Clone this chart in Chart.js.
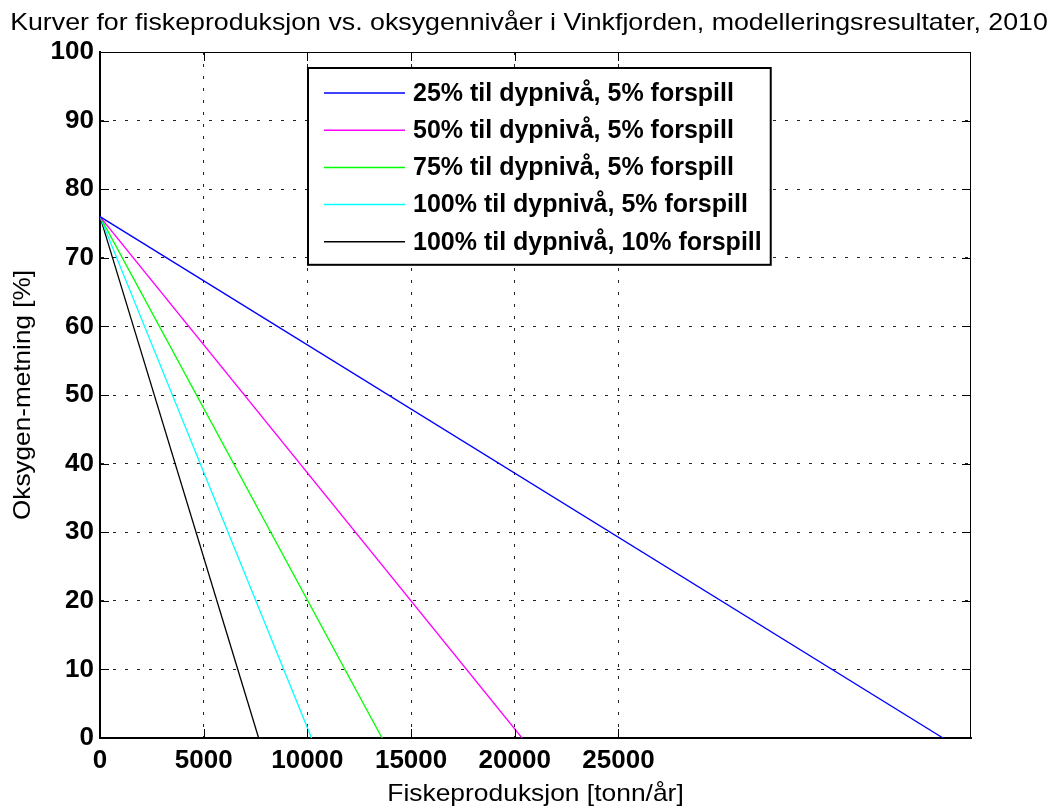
<!DOCTYPE html>
<html>
<head>
<meta charset="utf-8">
<script src="https://cdn.jsdelivr.net/npm/chart.js@4.4.1/dist/chart.umd.min.js"></script>
<style>
  html, body { margin: 0; padding: 0; background: #fff; }
  #wrap { width: 1058px; height: 808px; }
</style>
</head>
<body>
<div id="wrap"><canvas id="c" width="1058" height="808"></canvas></div>
<script>
// Tekster
const tittel = 'Kurver for fiskeproduksjon vs. oksygennivåer i Vinkfjorden, modelleringsresultater, 2010';
const xTittel = 'Fiskeproduksjon [tonn/år]';
const yTittel = 'Oksygen-metning [%]';
const serieNavn = [
  '25% til dypnivå, 5% forspill',
  '50% til dypnivå, 5% forspill',
  '75% til dypnivå, 5% forspill',
  '100% til dypnivå, 5% forspill',
  '100% til dypnivå, 10% forspill'
];

// Fiskeproduksjon (tonn/år) ved start- og sluttpunkt for hver kurve
const prod25 = [0, 40650];
const prod50 = [0, 20350];
const prod75 = [0, 13600];
const prod100 = [0, 10200];
const prod100f10 = [0, 7650];
// Oksygenmetning (%) i de samme punktene
const oksygen = [76, 0];

// Akser
const xTicks = [0, 5000, 10000, 15000, 20000, 25000];
const yTicks = [0, 10, 20, 30, 40, 50, 60, 70, 80, 90, 100];
const xMaks = 42000;
const yMaks = 100;

const farger = ['#0000ff', '#ff00ff', '#00ff00', '#00ffff', '#000000'];
const FONT = "'Liberation Sans', Arial, Helvetica, sans-serif";

const serier = [prod25, prod50, prod75, prod100, prod100f10];
const datasets = serier.map((xs, i) => ({
  label: serieNavn[i],
  data: xs.map((x, j) => ({ x: x, y: oksygen[j] })),
  borderColor: farger[i],
  backgroundColor: farger[i],
  borderWidth: 1.3,
  showLine: true,
  pointRadius: 0,
  fill: false,
  tension: 0
}));

// Tekst med horisontal strekk
function strektTekst(ctx, txt, x, y, rot, sx) {
  ctx.save();
  ctx.translate(x, y);
  ctx.rotate(rot);
  ctx.scale(sx, 1);
  ctx.fillText(txt, 0, 0);
  ctx.restore();
}

const ramme = {
  id: 'ramme',
  afterDraw(chart) {
    const { ctx, chartArea: a, scales: { x, y } } = chart;
    ctx.save();
    ctx.strokeStyle = '#000';
    ctx.setLineDash([]);

    // Topp- og høyrekant
    ctx.lineWidth = 1;
    ctx.beginPath();
    ctx.moveTo(a.left, a.top + 0.5);
    ctx.lineTo(a.right - 0.5, a.top + 0.5);
    ctx.lineTo(a.right - 0.5, a.bottom);
    ctx.stroke();

    // Innovervendte tikkmerker på alle fire sider
    const len = 9;
    ctx.beginPath();
    x.ticks.forEach(t => {
      const px = Math.round(x.getPixelForValue(t.value)) + 0.5;
      ctx.moveTo(px, a.bottom); ctx.lineTo(px, a.bottom - len);
      ctx.moveTo(px, a.top); ctx.lineTo(px, a.top + len);
    });
    y.ticks.forEach(t => {
      const py = Math.round(y.getPixelForValue(t.value)) + 0.5;
      ctx.moveTo(a.left, py); ctx.lineTo(a.left + len, py);
      ctx.moveTo(a.right, py); ctx.lineTo(a.right - len, py);
    });
    ctx.stroke();

    // Tegnforklaring
    ctx.font = 'bold 25px ' + FONT;
    const bredest = Math.max(...chart.data.datasets.map(d => ctx.measureText(d.label).width));
    const lx = a.left + 208, ly = a.top + 16;
    const rad = 37.2;
    const bw = 16 + 81 + 8 + bredest + 9;
    const bh = 25 + rad * (chart.data.datasets.length - 1) + 23;
    ctx.fillStyle = '#fff';
    ctx.fillRect(lx, ly, bw, bh);
    ctx.lineWidth = 2;
    ctx.strokeRect(lx, ly, bw, bh);
    ctx.textAlign = 'left';
    ctx.textBaseline = 'middle';
    chart.data.datasets.forEach((d, i) => {
      const ry = ly + 25 + i * rad;
      ctx.strokeStyle = d.borderColor;
      ctx.lineWidth = 1.5;
      ctx.beginPath();
      ctx.moveTo(lx + 16, ry);
      ctx.lineTo(lx + 97, ry);
      ctx.stroke();
      ctx.fillStyle = '#000';
      ctx.fillText(d.label, lx + 105, ry + 1);
    });

    // Titler
    ctx.fillStyle = '#000';
    ctx.font = '24px ' + FONT;
    ctx.textAlign = 'center';
    ctx.textBaseline = 'alphabetic';
    strektTekst(ctx, tittel, chart.width / 2, 30, 0, 1.115);
    strektTekst(ctx, xTittel, (a.left + a.right) / 2, 801, 0, 1.10);
    strektTekst(ctx, yTittel, 30, (a.top + a.bottom) / 2, -Math.PI / 2, 1.09);
    ctx.restore();
  }
};

const tikkFont = { family: FONT, size: 26, weight: 'bold' };

new Chart(document.getElementById('c'), {
  type: 'scatter',
  data: { datasets },
  options: {
    responsive: false,
    animation: false,
    devicePixelRatio: 1,
    layout: { padding: { left: 0, top: 52, right: 87, bottom: 0 } },
    plugins: {
      legend: { display: false },
      title: { display: false },
      tooltip: { enabled: false }
    },
    scales: {
      x: {
        type: 'linear',
        min: 0,
        max: xMaks,
        afterBuildTicks: s => { s.ticks = xTicks.map(v => ({ value: v })); },
        afterFit: s => { s.height = 70; },
        grid: { color: '#222', lineWidth: 1, drawTicks: false },
        border: { display: true, color: '#000', width: 2, dash: [3, 9] },
        ticks: { padding: 7, color: '#000', font: tikkFont, maxRotation: 0, autoSkip: false, callback: v => String(v) }
      },
      y: {
        type: 'linear',
        min: 0,
        max: yMaks,
        afterBuildTicks: s => { s.ticks = yTicks.map(v => ({ value: v })); },
        afterFit: s => { s.width = 100; },
        grid: { color: '#222', lineWidth: 1, drawTicks: false },
        border: { display: true, color: '#000', width: 2, dash: [3, 9] },
        ticks: { padding: 6, color: '#000', font: tikkFont, autoSkip: false, callback: v => String(v) }
      }
    }
  },
  plugins: [ramme]
});
</script>
</body>
</html>
